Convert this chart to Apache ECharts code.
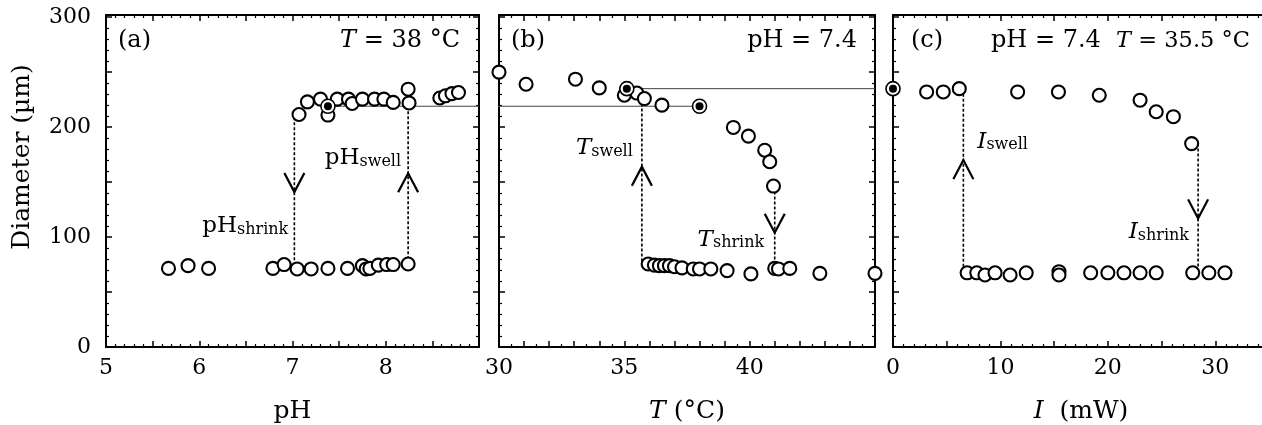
<!DOCTYPE html>
<html>
<head>
<meta charset="utf-8">
<script src="https://cdn.jsdelivr.net/npm/echarts@6/dist/echarts.min.js"></script>
<style>
html,body{margin:0;padding:0;background:#fff;}
#chart{width:1262px;height:425px;}
</style>
</head>
<body>
<div id="chart"></div>
<script>
// ---------------- data ----------------
// panel (a): diameter vs pH at T = 38 °C
const phShrunk = [[5.67,71.5],[5.88,74],[6.10,71.5],[6.79,71.5],[6.91,75],[7.05,71],[7.20,71],[7.38,71.5],[7.59,71.5],[7.75,74],[7.79,71],[7.83,71.5],[7.92,74.5],[8.01,75],[8.08,75],[8.24,75.5]];
const phSwollen = [[7.07,211.5],[7.16,223],[7.30,225.5],[7.38,211],[7.48,225.5],[7.60,225.5],[7.64,221.5],[7.75,225.5],[7.88,225.5],[7.98,225.5],[8.08,222.5],[8.24,234.5],[8.25,222],[8.58,226.5],[8.64,228.5],[8.71,230.5],[8.78,231.5]];
const phRef = [[7.38,219]];
// panel (b): diameter vs T at pH 7.4
const tempSwollen = [[30.0,250],[31.08,239],[33.05,243.6],[34.0,235.7],[35.0,229],[35.5,231],[35.8,226],[36.5,220],[39.35,199.7],[39.95,191.8],[40.6,179],[40.8,168.5],[40.95,146.4]];
const tempShrunk = [[35.95,75.5],[36.2,74.5],[36.4,74],[36.6,74],[36.8,74],[37.0,73],[37.3,72],[37.75,71],[38.0,71],[38.45,71],[39.1,69.5],[40.05,66.5],[41.0,71.5],[41.15,71],[41.6,71.5],[42.8,67],[45.0,67]];
const tempRef = [[35.1,235],[38.0,219]];
// panel (c): diameter vs laser power I at pH 7.4, T = 35.5 °C
const laserSwollen = [[3.13,232],[4.68,232],[6.17,235],[11.6,232],[15.4,232],[19.2,229],[23.0,224.5],[24.5,214],[26.1,209.5],[27.8,185]];
const laserShrunk = [[6.9,67.5],[7.8,67.5],[8.56,65.5],[9.5,67.5],[10.9,65.5],[12.4,67.5],[15.45,68.5],[15.45,65.5],[18.4,67.5],[20.0,67.5],[21.5,67.5],[23.0,67.5],[24.5,67.5],[27.9,67.5],[29.4,67.5],[30.9,67.5]];
const laserRef = [[0,235]];

// transitions (dashed verticals): [x, yFrom, yTo]
const transA = [[7.02,209,78],[8.24,219,79]];
const transB = [[35.7,226,75],[41.0,146,75]];
const transC = [[6.55,235,68],[28.4,185,68]];
// arrow tips: [x, y, direction]
const arrowsA = [[7.02,141,'down'],[8.24,158,'up']];
const arrowsB = [[35.7,164,'up'],[41.0,104,'down']];
const arrowsC = [[6.55,170,'up'],[28.4,117,'down']];
// annotation labels: [x, y, main, sub, side]
const notesA = [[6.96,111,'pH','shrink','left'],[8.17,173,'pH','swell','left']];
const notesB = [[35.36,182,'T','swell','left'],[40.6,99,'T','shrink','left']];
const notesC = [[7.8,188,'I','swell','right'],[27.6,106,'I','shrink','left']];
// thin reference links between panels: [panel, x1, x2, y]
const links = [[0,7.38,9.0,219],[1,29.1,38.0,219],[1,35.1,45.0,235],[2,-2.0,0,235]];

// axis tick labels
const xLabelsA = [5,6,7,8];
const xLabelsB = [30,35,40];
const xLabelsC = [0,10,20,30];
const yLabels = [0,100,200,300];

// ---------------- chart ----------------
const FONT = 'DejaVu Serif';
const chart = echarts.init(document.getElementById('chart'), null, {renderer:'canvas'});

const grids = [
  {left:106, top:15, width:373, height:332},
  {left:499, top:15, width:376, height:332},
  {left:893, top:15, width:376, height:332}
].map(g => Object.assign({outerBoundsMode:'none', containLabel:false}, g));

const xCfg = [
  {min:5, max:9, interval:0.5, split:5, labels:xLabelsA, name:'pH'},
  {min:30, max:45, interval:1, split:2, labels:xLabelsB, name:'{it|T} (°C)'},
  {min:0, max:35, interval:5, split:5, labels:xLabelsC, name:'{it|I}  (mW)'}
];

const lineStyle = {color:'#000', width:2};
const tickStyle = {color:'#000', width:1.5};
const minorStyle = {color:'#000', width:1.2};
const nameRich = {it:{fontStyle:'italic', fontFamily:FONT, fontSize:25, color:'#000'}};

const xAxes = [], yAxes = [];
xCfg.forEach((c, i) => {
  xAxes.push({
    type:'value', gridIndex:i, position:'bottom', min:c.min, max:c.max, interval:c.interval,
    axisLine:{show:true, onZero:false, lineStyle},
    axisTick:{show:true, inside:true, length:6, lineStyle:tickStyle},
    minorTick:{show:true, splitNumber:c.split, length:3, lineStyle:minorStyle},
    splitLine:{show:false}, minorSplitLine:{show:false},
    axisLabel:{show:true, customValues:c.labels, margin:10, fontFamily:FONT, fontSize:22, color:'#000'},
    name:c.name, nameLocation:'middle', nameGap:52,
    nameTextStyle:{fontFamily:FONT, fontSize:25, color:'#000', rich:nameRich}
  });
  xAxes.push({
    type:'value', gridIndex:i, position:'top', min:c.min, max:c.max, interval:c.interval,
    axisLine:{show:true, onZero:false, lineStyle},
    axisTick:{show:true, inside:true, length:6, lineStyle:tickStyle},
    minorTick:{show:true, splitNumber:c.split, length:3, lineStyle:minorStyle},
    splitLine:{show:false}, axisLabel:{show:false}
  });
  yAxes.push({
    type:'value', gridIndex:i, position:'left', min:0, max:302, interval:50,
    axisLine:{show:true, onZero:false, lineStyle},
    axisTick:{show:true, inside:true, length:6, lineStyle:tickStyle},
    minorTick:{show:true, splitNumber:5, length:3, lineStyle:minorStyle},
    splitLine:{show:false},
    axisLabel:{show:i===0, customValues:yLabels, margin:15, fontFamily:FONT, fontSize:22, color:'#000'}
  });
  yAxes.push({
    type:'value', gridIndex:i, position:'right', min:0, max:302, interval:50,
    axisLine:{show:true, onZero:false, lineStyle},
    axisTick:{show:true, inside:true, length:6, lineStyle:tickStyle},
    minorTick:{show:true, splitNumber:5, length:3, lineStyle:minorStyle},
    splitLine:{show:false}, axisLabel:{show:false}
  });
});

const series = [];
const ax = i => ({xAxisIndex:i*2, yAxisIndex:i*2});

function links_(){
  links.forEach(l => {
    series.push(Object.assign({type:'line', data:[[l[1],l[3]],[l[2],l[3]]], clip:false,
      symbol:'none', lineStyle:{color:'#444', width:1}, z:1, silent:true, animation:false}, ax(l[0])));
  });
}
function dashed(i, arr){
  arr.forEach(t => {
    series.push(Object.assign({type:'line', data:[[t[0],t[1]],[t[0],t[2]]], symbol:'none',
      lineStyle:{color:'#000', width:1.6, type:[3,2]}, z:1, silent:true, animation:false}, ax(i)));
  });
}
function arrows(i, arr){
  arr.forEach(a => {
    const down = a[2] === 'down';
    series.push(Object.assign({type:'scatter', data:[[a[0],a[1]]],
      symbol: down ? 'path://M0,0 L10,19 L20,0' : 'path://M0,19 L10,0 L20,19',
      symbolSize:[20,19], symbolOffset:[0, down ? -9.5 : 9.5],
      itemStyle:{color:'rgba(0,0,0,0)', borderColor:'#000', borderWidth:2.2, opacity:1},
      z:2, silent:true, animation:false}, ax(i)));
  });
}
function circles(i, data){
  series.push(Object.assign({type:'scatter', data, symbol:'circle', symbolSize:13,
    itemStyle:{color:'#fff', borderColor:'#000', borderWidth:2.1, opacity:1}, z:3, silent:true, animation:false}, ax(i)));
}
function filled(i, data){
  series.push(Object.assign({type:'scatter', data, symbol:'circle', symbolSize:14,
    itemStyle:{color:'#fff', borderColor:'#000', borderWidth:1.6, opacity:1}, z:4, silent:true, animation:false}, ax(i)));
  series.push(Object.assign({type:'scatter', data, symbol:'circle', symbolSize:8,
    itemStyle:{color:'#000', opacity:1}, z:5, silent:true, animation:false}, ax(i)));
}
function notes(i, arr){
  arr.forEach(n => {
    series.push(Object.assign({type:'scatter', data:[[n[0],n[1]]], symbolSize:1,
      itemStyle:{color:'rgba(0,0,0,0)'}, z:6, silent:true, animation:false,
      label:{show:true, position:n[4], distance:0, color:'#000', opacity:1, textBorderWidth:0,
        formatter:'{' + (n[2]==='pH' ? 'm' : 'mi') + '|' + n[2] + '}{s|' + n[3] + '}',
        rich:{
          m:{fontFamily:FONT, fontSize:23, color:'#000', verticalAlign:'bottom', lineHeight:26},
          mi:{fontFamily:FONT, fontSize:23, fontStyle:'italic', color:'#000', verticalAlign:'bottom', lineHeight:26},
          s:{fontFamily:FONT, fontSize:16, color:'#000', verticalAlign:'bottom', lineHeight:22}
        }}
    }, ax(i)));
  });
}

links_();
dashed(0, transA); dashed(1, transB); dashed(2, transC);
arrows(0, arrowsA); arrows(1, arrowsB); arrows(2, arrowsC);
circles(0, phShrunk); circles(0, phSwollen); filled(0, phRef);
circles(1, tempSwollen); circles(1, tempShrunk); filled(1, tempRef);
circles(2, laserSwollen); circles(2, laserShrunk); filled(2, laserRef);
notes(0, notesA); notes(1, notesB); notes(2, notesC);

const mkStyle = fs => ({fontFamily:FONT, fontSize:fs, fontWeight:'normal', color:'#000',
  rich:{n:{fontFamily:FONT, fontSize:fs, color:'#000'}, it:{fontFamily:FONT, fontSize:fs, fontStyle:'italic', color:'#000'}}});
const titles = [
  {text:'(a)', left:118, top:29},
  {text:'{it|T}{n| = 38 °C}', right:802, top:29},
  {text:'(b)', left:511, top:29},
  {text:'{n|pH = 7.4}', right:405, top:29},
  {text:'(c)', left:911, top:29},
  {text:'{n|pH = 7.4}', left:991, top:29},
  {text:'{it|T}{n| = 35.5 °C}', right:12, top:30, textStyle:mkStyle(22.5)}
].map(t => Object.assign({textStyle:mkStyle(24), padding:0}, t));

chart.setOption({
  animation:false,
  backgroundColor:'#fff',
  title:titles,
  grid:grids,
  xAxis:xAxes,
  yAxis:yAxes,
  graphic:[{
    type:'text', x:22, y:157, rotation:Math.PI/2, silent:true,
    style:{text:'Diameter (µm)', fontFamily:FONT, fontSize:25, fill:'#000', align:'center', verticalAlign:'middle'}
  }],
  series
});
</script>
</body>
</html>
